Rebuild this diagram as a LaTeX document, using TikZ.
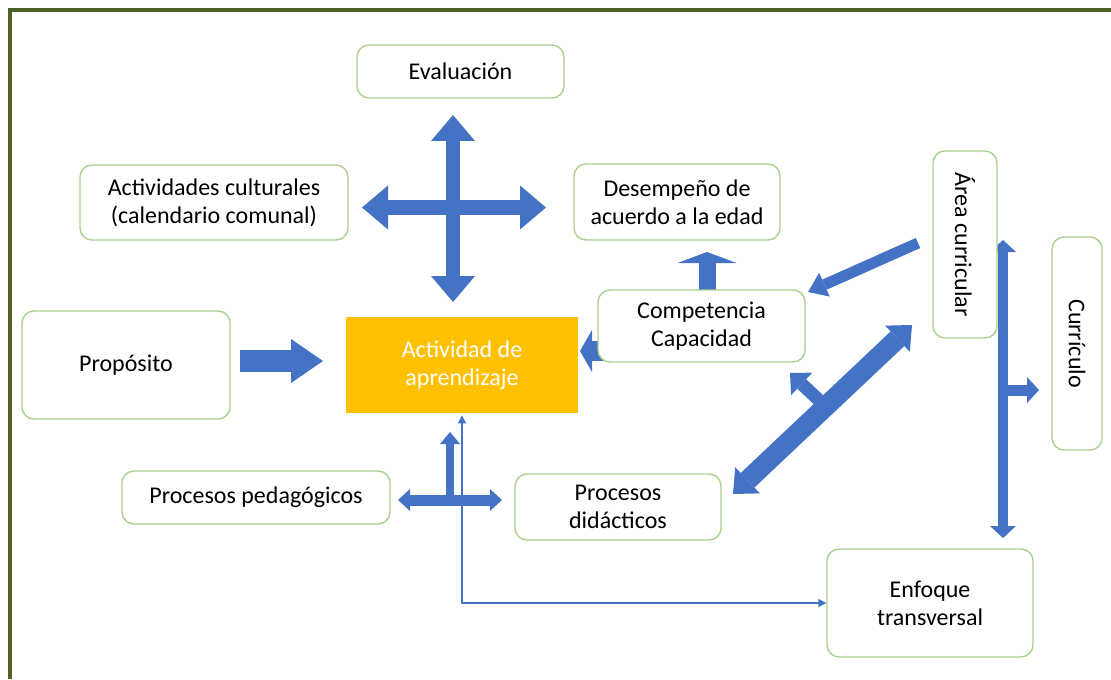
\documentclass[tikz,border=0pt]{standalone}
\usepackage{fontspec}
\setmainfont{Carlito}
\usetikzlibrary{arrows.meta}

\definecolor{arrblue}{HTML}{4472C4}
\definecolor{boxgreen}{HTML}{A9D18E}
\definecolor{actorange}{HTML}{FFC000}
\definecolor{frameolive}{HTML}{4F6228}

\tikzset{
  box/.style={draw=boxgreen, line width=0.7pt, rounded corners=6pt, align=center,
    inner sep=0pt, font=\fontsize{12}{14}\selectfont},
  blk/.style n args={3}{draw=arrblue, line width=#1,
    arrows={-Triangle[width=#2,length=#3,line width=0pt]}},
  dblk/.style n args={3}{draw=arrblue, line width=#1,
    arrows={Triangle[width=#2,length=#3,line width=0pt]-Triangle[width=#2,length=#3,line width=0pt]}},
}

\begin{document}
\begin{tikzpicture}[x=0.5pt,y=-0.5pt]
\useasboundingbox (0,0) rectangle (1111,679);
\draw[frameolive, line width=2pt] (10,679) -- (10,10) -- (1111,10);

% nodes
\node[box, minimum width=103.5pt, minimum height=26.5pt] (eval) at (460.5,71.5) {Evaluación};
\node[box, minimum width=134pt, minimum height=37.5pt] (cult) at (214,202.5) {Actividades culturales\\(calendario comunal)};
\node[box, minimum width=103pt, minimum height=38pt] (desemp) at (677,202) {Desempeño de\\acuerdo a la edad};
\node[box, minimum width=104pt, minimum height=54pt] (prop) at (126,365) {Propósito};
\node[fill=actorange, text=white, align=center, font=\fontsize{12}{14}\selectfont,
  minimum width=116pt, minimum height=48pt] (act) at (462,365) {Actividad de\\aprendizaje};
\node[box, minimum width=134pt, minimum height=26.5pt] (pedag) at (256,497.5) {Procesos pedagógicos};
\node[box, minimum width=103pt, minimum height=33pt] (didac) at (618,507) {Procesos\\didácticos};
\node[box, minimum width=103pt, minimum height=54pt] (enf) at (930,603) {Enfoque\\transversal};
\node[box, minimum width=106.5pt, minimum height=25pt, rotate=-90] (curri) at (1077,343.5) {Currículo};

% arrow ends
\coordinate (crossN) at (453,115);
\coordinate (crossS) at (453,302);
\coordinate (crossW) at (362,207.5);
\coordinate (crossE) at (546,207.5);
\coordinate (propE) at (240,361);
\coordinate (actW) at (323,361);
\coordinate (hidE) at (665,351);
\coordinate (actE) at (580,351);
\coordinate (compN) at (707,292);
\coordinate (desS) at (707,252);
\coordinate (areaW) at (918,243);
\coordinate (compE) at (808,292);
\coordinate (diagA) at (733,494);
\coordinate (diagB) at (912,325);
\coordinate (diagM) at (822,403);
\coordinate (diagT) at (790,373);
\coordinate (vertN) at (1003,240);
\coordinate (vertS) at (1003,538);
\coordinate (vertM) at (1003,390);
\coordinate (curW) at (1039,390);
\coordinate (pedW) at (398,500);
\coordinate (pedE) at (502,500);
\coordinate (pedM) at (450,500);
\coordinate (pedT) at (450,432);

% block arrows
\draw[dblk={7pt}{22pt}{13pt}] (crossS) -- (crossN);
\draw[dblk={7.5pt}{22pt}{13pt}] (crossW) -- (crossE);
\draw[blk={11pt}{22pt}{16pt}] (propE) -- (actW);
\draw[blk={10pt}{21pt}{6pt}] (hidE) -- (actE);
\draw[blk={8.5pt}{29.5pt}{5.5pt}] (compN) -- (desS);
\draw[blk={5.5pt}{13pt}{9pt}] (areaW) -- (compE);
\draw[dblk={10pt}{18pt}{10pt}] (diagA) -- (diagB);
\draw[blk={6.5pt}{15.5pt}{8pt}] (diagM) -- (diagT);
\draw[dblk={5pt}{13pt}{6pt}] (vertN) -- (vertS);
\draw[blk={5.5pt}{13pt}{6pt}] (vertM) -- (curW);
\draw[dblk={5.5pt}{11pt}{6pt}] (pedW) -- (pedE);
\draw[blk={4pt}{10pt}{6pt}] (pedM) -- (pedT);

% boxes drawn over the arrows
\node[box, fill=white, minimum width=103.5pt, minimum height=36pt] (comp) at (701.5,326) {Competencia\\Capacidad};
\node[box, fill=white, minimum width=93.5pt, minimum height=32pt, rotate=-90] (area) at (965,244.5) {Área curricular};

% thin connector
\draw[arrblue, line width=0.6pt, {Triangle[width=4pt,length=4pt]}-{Triangle[width=4pt,length=4pt]}]
  ([yshift=-1pt]act.south) |- (enf.west);
\end{tikzpicture}
\end{document}
